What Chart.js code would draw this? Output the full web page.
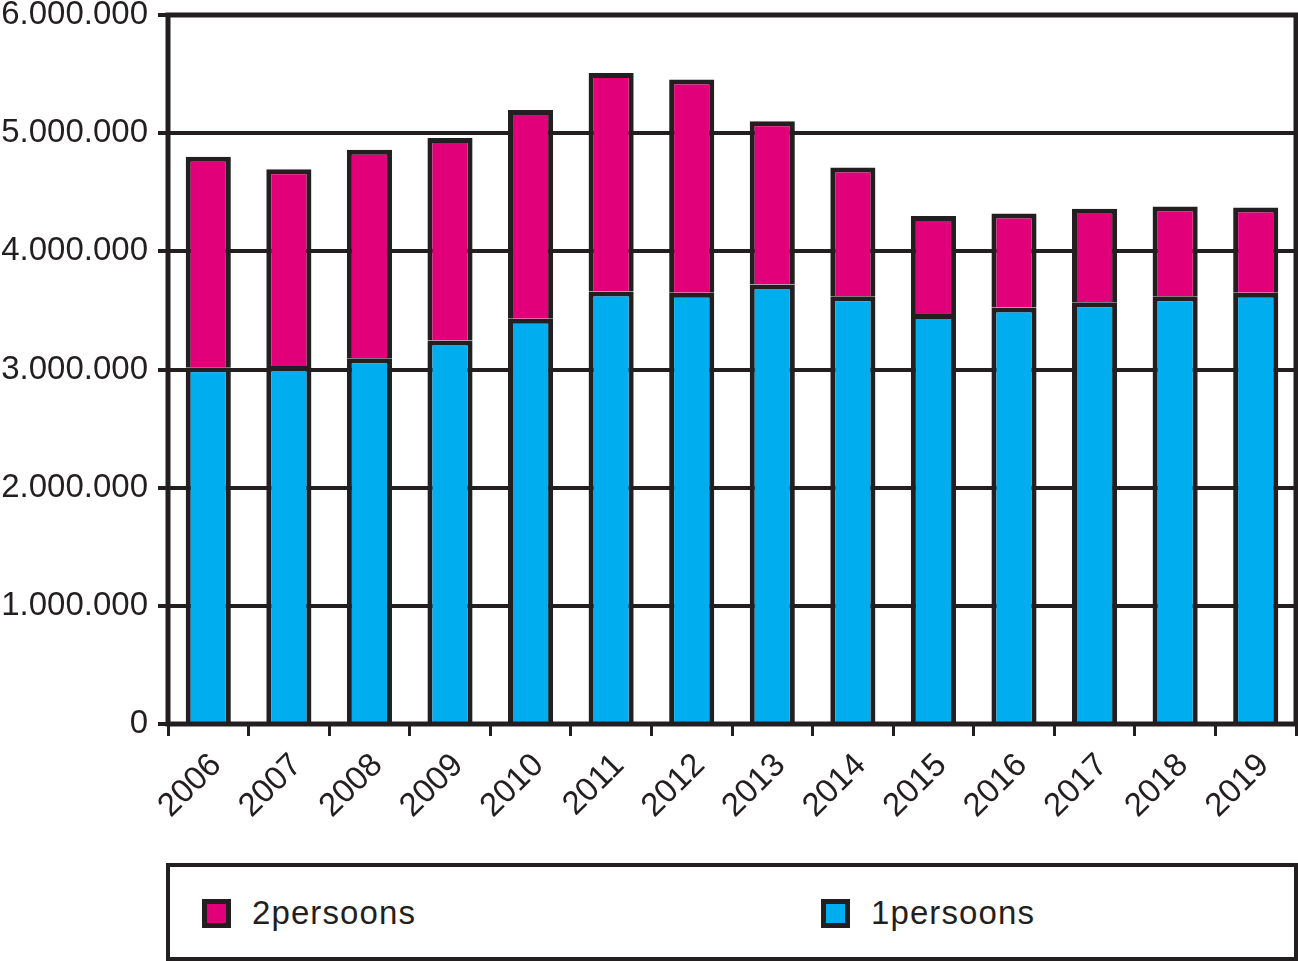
<!DOCTYPE html>
<html>
<head>
<meta charset="utf-8">
<script src="https://cdn.jsdelivr.net/npm/chart.js@4/dist/chart.umd.min.js"></script>
<style>
  body { margin: 0; background: #fff; font-family: "Liberation Sans", Arial, Helvetica, sans-serif; color: #231f20; }
  #wrap { position: relative; width: 1298px; height: 961px; }
  #chart { position: absolute; left: 0; top: 0; }
  #legend { position: absolute; left: 166px; top: 863px; width: 1132px; height: 98px; box-sizing: border-box; border: 4px solid #231f20; }
  .item { position: absolute; top: 29px; height: 34px; display: flex; align-items: center; font-size: 33px; letter-spacing: 1.1px; }
  .box { width: 29px; height: 29px; box-sizing: border-box; border: 5px solid #231f20; margin-right: 21px; }
</style>
</head>
<body>
<div id="wrap">
  <canvas id="chart" width="1298" height="850"></canvas>
  <div id="legend"></div>
</div>
<script>
// Jaren op de x-as
const jaren = ['2006', '2007', '2008', '2009', '2010', '2011', '2012', '2013', '2014', '2015', '2016', '2017', '2018', '2019'];

// Huishoudens per type
const eenPersoons = [3020000, 3030000, 3095000, 3245000, 3430000, 3660000, 3650000, 3720000, 3620000, 3470000, 3525000, 3570000, 3620000, 3650000];
const tweePersoons = [1780000, 1665000, 1765000, 1715000, 1765000, 1850000, 1805000, 1380000, 1090000, 830000, 795000, 790000, 760000, 720000];

// Y-as
const yTicks = [0, 1000000, 2000000, 3000000, 4000000, 5000000, 6000000];

const DONKER = '#231f20';
const ROZE = '#e2007a';
const BLAUW = '#00aeef';
const FONT = '"Liberation Sans", Arial, Helvetica, sans-serif';

// getal met punt als duizendtalscheiding
function formatNL(v) {
    return String(v).replace(/\B(?=(\d{3})+(?!\d))/g, '.');
}

// kader om het plotgebied
const kaderPlugin = {
    id: 'kader',
    afterDraw(chart) {
        const { ctx, chartArea: a } = chart;
        ctx.save();
        ctx.strokeStyle = DONKER;
        ctx.lineWidth = 5;
        ctx.strokeRect(a.left, a.top, a.right - a.left, a.bottom - a.top);
        ctx.restore();
    }
};

const ctx = document.getElementById('chart').getContext('2d');
const grafiek = new Chart(ctx, {
    type: 'bar',
    data: {
        labels: jaren,
        datasets: [
            {
                label: '1persoons',
                data: eenPersoons,
                backgroundColor: BLAUW,
                borderColor: DONKER,
                borderWidth: 5,
                borderSkipped: 'start'
            },
            {
                label: '2persoons',
                data: tweePersoons,
                backgroundColor: ROZE,
                borderColor: DONKER,
                borderWidth: 5,
                borderSkipped: 'start'
            }
        ]
    },
    options: {
        responsive: false,
        devicePixelRatio: 1,
        animation: false,
        barPercentage: 0.56,
        categoryPercentage: 1,
        layout: { padding: { top: 15, right: 2, left: 0, bottom: 0 } },
        plugins: {
            legend: { display: false },
            tooltip: { enabled: false }
        },
        scales: {
            x: {
                stacked: true,
                offset: true,
                border: { display: false },
                grid: {
                    offset: true,
                    drawOnChartArea: false,
                    drawTicks: true,
                    tickLength: 12,
                    lineWidth: 3,
                    color: DONKER
                },
                ticks: {
                    minRotation: 45,
                    maxRotation: 45,
                    padding: 10,
                    labelOffset: 8,
                    color: DONKER,
                    font: { family: FONT, size: 33 }
                },
                afterFit: s => { s.height = 126; s.paddingLeft = 0; s.paddingRight = 0; }
            },
            y: {
                stacked: true,
                min: 0,
                max: 6000000,
                border: { display: false },
                afterBuildTicks: s => { s.ticks = yTicks.map(v => ({ value: v })); },
                grid: {
                    color: DONKER,
                    lineWidth: 4,
                    drawTicks: true,
                    tickLength: 10
                },
                ticks: {
                    padding: 10,
                    color: DONKER,
                    font: { family: FONT, size: 33 },
                    callback: v => formatNL(v)
                },
                afterFit: s => { s.width = 168; s.paddingTop = 0; s.paddingBottom = 0; }
            }
        }
    },
    plugins: [kaderPlugin]
});

// legenda als html, volgorde zoals in het origineel
const legenda = document.getElementById('legend');
const posities = [32, 651];
[1, 0].forEach((i, n) => {
    const ds = grafiek.data.datasets[i];
    const item = document.createElement('div');
    item.className = 'item';
    item.style.left = posities[n] + 'px';
    item.innerHTML = `<div class="box" style="background:${ds.backgroundColor}"></div><span>${ds.label}</span>`;
    legenda.appendChild(item);
});
</script>
</body>
</html>
